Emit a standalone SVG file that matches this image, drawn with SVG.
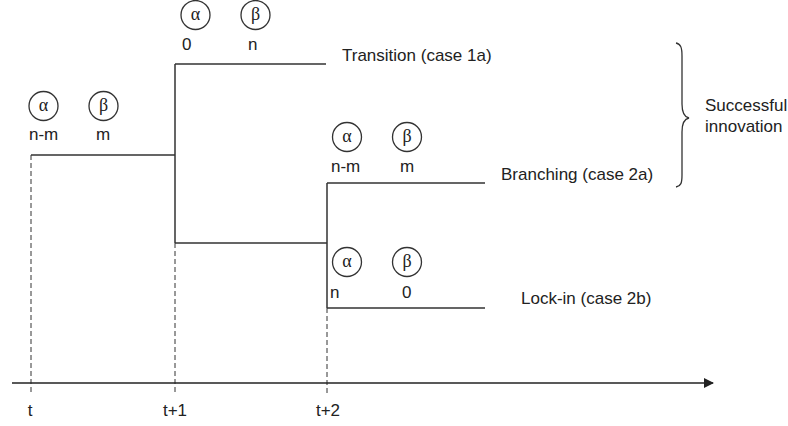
<svg xmlns="http://www.w3.org/2000/svg" width="788" height="426" viewBox="0 0 788 426">
  <style>
    text { font-family: "Liberation Sans", Arial, sans-serif; font-size: 17px; fill: #222; }
    .sym { text-anchor: middle; font-family: "Liberation Serif", "Times New Roman", serif; font-size: 18px; }
    .mid { text-anchor: middle; }
    .node circle { fill: none; stroke: #333; stroke-width: 1.3; }
    .path { fill: none; stroke: #333; stroke-width: 1.5; }
    .guide { fill: none; stroke: #333; stroke-width: 1; stroke-dasharray: 5 3; }
  </style>
  <defs>
    <marker id="arrow" markerWidth="10" markerHeight="10" refX="9" refY="5" orient="auto" markerUnits="userSpaceOnUse">
      <path d="M0,0 L10,5 L0,10 Z" fill="#222"/>
    </marker>
  </defs>
  <rect width="788" height="426" fill="#fff"/>

  <!-- branching tree and time axis -->
  <g id="connectors">
    <path class="path" d="M31,155 H175 M175,64 V243 M175,64 H326 M175,243 H327 M327,183 V308 M327,183 H485 M327,308 H485"/>
    <path class="guide" d="M31,155 V395 M175,243 V395 M327,308 V395"/>
    <line x1="12" y1="383" x2="713" y2="383" stroke="#222" stroke-width="1.5" marker-end="url(#arrow)"/>
  </g>

  <!-- population state at t -->
  <g id="state-t" class="node">
    <circle cx="43.5" cy="106" r="14.5"/>
    <text class="sym" x="43.5" y="111">α</text>
    <circle cx="103.5" cy="106" r="14.5"/>
    <text class="sym" x="103.5" y="111">β</text>
    <text x="29" y="140">n-m</text>
    <text x="96" y="140">m</text>
  </g>

  <!-- transition state -->
  <g id="state-transition" class="node">
    <circle cx="195.5" cy="15" r="14.5"/>
    <text class="sym" x="195.5" y="20">α</text>
    <circle cx="255.5" cy="15" r="14.5"/>
    <text class="sym" x="255.5" y="20">β</text>
    <text x="182" y="50">0</text>
    <text x="248" y="50">n</text>
    <text x="342" y="61">Transition (case 1a)</text>
  </g>

  <!-- branching state -->
  <g id="state-branching" class="node">
    <circle cx="347" cy="137" r="14.5"/>
    <text class="sym" x="347" y="142">α</text>
    <circle cx="407" cy="137" r="14.5"/>
    <text class="sym" x="407" y="142">β</text>
    <text x="331" y="172">n-m</text>
    <text x="400" y="172">m</text>
    <text x="501" y="180">Branching (case 2a)</text>
  </g>

  <!-- lock-in state -->
  <g id="state-lockin" class="node">
    <circle cx="347" cy="262" r="14.5"/>
    <text class="sym" x="347" y="267">α</text>
    <circle cx="407" cy="262" r="14.5"/>
    <text class="sym" x="407" y="267">β</text>
    <text x="330" y="298">n</text>
    <text x="402" y="298">0</text>
    <text x="521" y="304">Lock-in (case 2b)</text>
  </g>

  <!-- brace grouping the successful outcomes -->
  <g id="successful">
    <path fill="none" stroke="#333" stroke-width="1.3" d="M676,43 C681,44 682,48 682,56 V104 C682,112 684,117 689,118 C684,119 682,124 682,132 V175 C682,183 681,186 676,187"/>
    <text x="705" y="111">Successful</text>
    <text x="705" y="132">innovation</text>
  </g>

  <!-- time labels -->
  <g id="time-labels">
    <text class="mid" x="30" y="416">t</text>
    <text class="mid" x="175" y="416" textLength="24">t+1</text>
    <text class="mid" x="328" y="416" textLength="24">t+2</text>
  </g>
</svg>
